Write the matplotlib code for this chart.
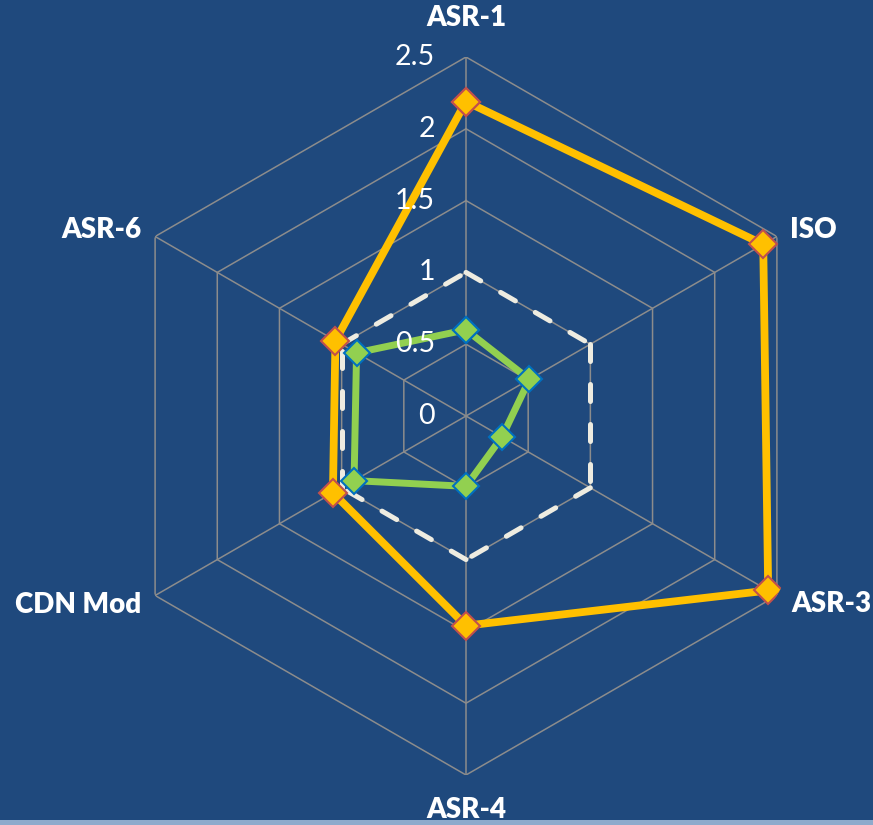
import numpy as np
import matplotlib
matplotlib.use("Agg")
import matplotlib.pyplot as plt

# Axis categories (clockwise from top)
categories = ["ASR-1", "ISO", "ASR-3", "ASR-4", "CDN Mod", "ASR-6"]

# Series values
series_orange = [2.19, 2.39, 2.43, 1.46, 1.07, 1.05]
series_green = [0.60, 0.51, 0.29, 0.49, 0.90, 0.88]
series_ref = [1.0, 1.0, 1.0, 1.0, 1.0, 1.0]

# Radial scale
tick_values = [0, 0.5, 1, 1.5, 2, 2.5]
tick_labels = ["0", "0.5", "1", "1.5", "2", "2.5"]

BG = "#1F497D"
GRID = "#8C8C8C"

W, H = 873, 825
fig = plt.figure(figsize=(W / 100, H / 100), dpi=100, facecolor=BG)

# light strip along the bottom edge
fig.patches.append(plt.Rectangle((0, 0), 1, 5 / H, transform=fig.transFigure,
                                 facecolor="#8EAACC", edgecolor="none", zorder=0))

cx, cy, R = 466, 825 - 416, 359
ax = fig.add_axes([(cx - R) / W, (cy - R) / H, 2 * R / W, 2 * R / H],
                  projection="polar")
ax.set_facecolor("none")
ax.set_theta_offset(np.pi / 2)
ax.set_theta_direction(-1)
ax.set_ylim(0, tick_values[-1])
ax.grid(False)
ax.spines["polar"].set_visible(False)
ax.set_xticks([])
ax.set_yticks([])

n = len(categories)
theta = np.arange(n) * 2 * np.pi / n
theta_c = np.append(theta, theta[0])


def closed(vals):
    return np.append(vals, vals[0])


# hexagonal grid rings
for r in tick_values[1:]:
    ax.plot(theta_c, [r] * (n + 1), color=GRID, lw=1.1, zorder=1)
# spokes
for t in theta:
    ax.plot([t, t], [0, tick_values[-1]], color=GRID, lw=1.1, zorder=1)

# reference line: one dashed segment per side so each starts at a vertex
for i in range(n):
    ax.plot(theta_c[i:i + 2], closed(series_ref)[i:i + 2], color="#EEECE1",
            lw=3.6, dashes=(3.4, 4.6), dash_capstyle="round", zorder=2)

# data series
ax.plot(theta_c, closed(series_orange), color="#FFC000", lw=5.6, zorder=3,
        marker="D", markersize=14, markerfacecolor="#FFC000",
        markeredgecolor="#C0504D", markeredgewidth=1.5)
ax.plot(theta_c, closed(series_green), color="#92D050", lw=5.0, zorder=4,
        marker="D", markersize=13, markerfacecolor="#92D050",
        markeredgecolor="#0070C0", markeredgewidth=1.5)

# radial tick labels, left of the top spoke
for v, lab in zip(tick_values, tick_labels):
    ax.annotate(lab, xy=(0, v), xytext=(-31, 0), textcoords="offset pixels",
                ha="right", va="center", color="white", fontsize=20.5,
                family="Lato", zorder=5, annotation_clip=False)

# category labels
label_font = dict(color="white", fontsize=20, fontweight="heavy", family="Lato")
label_pos = {
    "ASR-1": ((466, 18), "center"),
    "ISO": ((790, 230), "left"),
    "ASR-3": ((791, 604), "left"),
    "ASR-4": ((466, 810), "center"),
    "CDN Mod": ((141, 605), "right"),
    "ASR-6": ((141, 230), "right"),
}
for cat in categories:
    (px, py), ha = label_pos[cat]
    fig.text(px / W, 1 - py / H, cat, ha=ha, va="center", **label_font)

fig.savefig("out.png", dpi=100, facecolor=BG)
